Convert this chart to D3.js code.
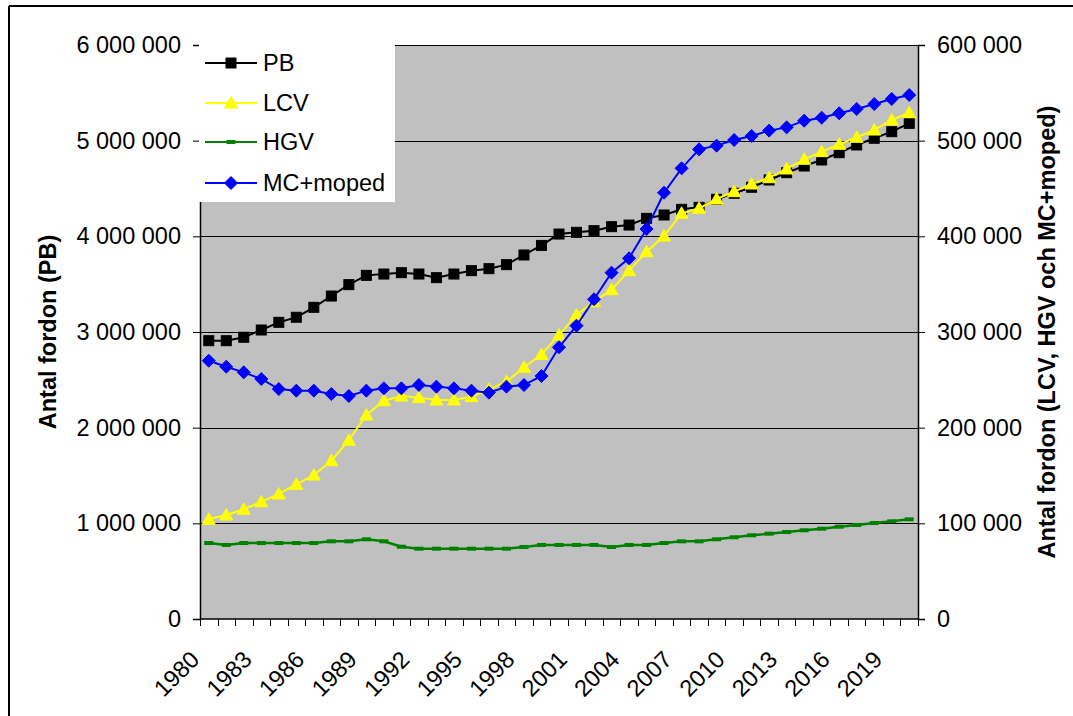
<!DOCTYPE html>
<html>
<head>
<meta charset="utf-8">
<script src="https://cdn.jsdelivr.net/npm/d3@7"></script>
<style>
  html, body { margin: 0; padding: 0; background: #fff; }
  svg { display: block; }
  text { font-family: "Liberation Sans", Arial, sans-serif; fill: #000; }
</style>
</head>
<body>
<svg id="chart" width="1073" height="716"></svg>
<script>
// Fleet size per vehicle category, Sweden 1980–2020
const years = d3.range(1980, 2021);

// Passenger cars (left axis)
const pb = [2909000, 2909000, 2945000, 3021000, 3101000, 3154000, 3258000, 3376000, 3495000, 3592000,
            3606000, 3620000, 3606000, 3568000, 3606000, 3641000, 3662000, 3704000, 3805000, 3905000,
            4024000, 4042000, 4059000, 4101000, 4118000, 4188000, 4223000, 4282000, 4303000, 4387000,
            4450000, 4513000, 4589000, 4665000, 4735000, 4798000, 4874000, 4955000, 5025000, 5094000,
            5181000];

// Light commercial vehicles (right axis)
const lcv = [104200, 108700, 114700, 122500, 130700, 140800, 150500, 165500, 186800, 213200,
             228200, 233100, 231400, 228900, 228900, 232400, 240100, 248100, 263100, 276500,
             296700, 317800, 331700, 344200, 364100, 383900, 400300, 424100, 429300, 439000,
             446700, 454700, 461300, 470400, 480500, 488500, 496200, 503500, 511100, 521600,
             529200];

// Heavy goods vehicles (right axis)
const hgv = [79400, 77400, 79400, 79400, 79400, 79400, 79400, 81200, 81200, 83300,
             81200, 75600, 73500, 73500, 73500, 73500, 73500, 73500, 75300, 77400,
             77400, 77400, 77400, 75300, 77400, 77400, 79400, 81200, 81200, 83300,
             85400, 87500, 89200, 90900, 92700, 94400, 96500, 98300, 100300, 102100,
             104200];

// Motorcycles and mopeds (right axis)
const mc = [270000, 263700, 257800, 250900, 240400, 238700, 238700, 235200, 233100, 238700,
            241100, 241100, 244600, 242900, 241100, 238700, 236600, 242900, 244600, 254000,
            284000, 306600, 334200, 362000, 377000, 407700, 445600, 471100, 490900, 494800,
            500700, 504900, 510500, 513900, 520900, 524000, 528600, 533100, 538300, 543600,
            547700];

const leftTicks = [0, 1000000, 2000000, 3000000, 4000000, 5000000, 6000000];
const rightTicks = [0, 100000, 200000, 300000, 400000, 500000, 600000];
const yearLabels = d3.range(1980, 2021, 3);

const leftTitle = "Antal fordon (PB)";
const rightTitle = "Antal fordon (LCV, HGV och MC+moped)";

const series = [
  { name: "PB", values: pb, axis: "left", color: "#000000", marker: "square" },
  { name: "LCV", values: lcv, axis: "right", color: "#FFFF00", marker: "triangle" },
  { name: "HGV", values: hgv, axis: "right", color: "#008000", marker: "dash" },
  { name: "MC+moped", values: mc, axis: "right", color: "#0000FF", marker: "diamond" }
];

const plot = { left: 200, right: 918, top: 45, bottom: 619 };
const svg = d3.select("#chart");

const x = d3.scaleBand().domain(years).range([plot.left, plot.right]).padding(0);
const xc = d => x(d) + x.bandwidth() / 2;
const yL = d3.scaleLinear().domain([0, 6000000]).range([plot.bottom, plot.top]);
const yR = d3.scaleLinear().domain([0, 600000]).range([plot.bottom, plot.top]);
const fmt = v => d3.format(",")(v).replace(/,/g, " ");

// outer frame (top and left edges)
svg.append("line").attr("x1", 9).attr("y1", 6).attr("x2", 1073).attr("y2", 6)
  .attr("stroke", "#000").attr("stroke-width", 2);
svg.append("line").attr("x1", 9).attr("y1", 6).attr("x2", 9).attr("y2", 716)
  .attr("stroke", "#000").attr("stroke-width", 2);

// plot background
svg.append("rect")
  .attr("x", plot.left).attr("y", plot.top)
  .attr("width", plot.right - plot.left).attr("height", plot.bottom - plot.top)
  .attr("fill", "#C0C0C0");

// horizontal gridlines
svg.append("g").selectAll("line").data(leftTicks.slice(1)).join("line")
  .attr("x1", plot.left).attr("x2", plot.right)
  .attr("y1", d => Math.round(yL(d)) + 0.5).attr("y2", d => Math.round(yL(d)) + 0.5)
  .attr("stroke", "#000").attr("stroke-width", 1);

// left axis
const axL = svg.append("g").attr("transform", `translate(${plot.left},0)`)
  .call(d3.axisLeft(yL).tickValues(leftTicks).tickFormat(fmt).tickSize(7).tickPadding(12));
// right axis
const axR = svg.append("g").attr("transform", `translate(${plot.right},0)`)
  .call(d3.axisRight(yR).tickValues(rightTicks).tickFormat(fmt).tickSize(7).tickPadding(12));
[axL, axR].forEach(g => {
  g.select(".domain").attr("stroke", "#000").attr("stroke-width", 1.5);
  g.selectAll(".tick line").attr("stroke", "#000").attr("stroke-width", 1);
  g.selectAll(".tick text").attr("font-size", 23.5)
    .style("font-family", '"Liberation Sans", Arial, sans-serif').attr("fill", "#000");
});

// bottom axis: baseline, tick marks at category boundaries, rotated year labels
const xg = svg.append("g");
xg.append("line").attr("x1", plot.left).attr("x2", plot.right)
  .attr("y1", plot.bottom).attr("y2", plot.bottom).attr("stroke", "#000").attr("stroke-width", 1.5);
const bounds = years.map(d => x(d)).concat([plot.right]);
xg.selectAll("line.tk").data(bounds).join("line").attr("class", "tk")
  .attr("x1", d => Math.round(d) + 0.5).attr("x2", d => Math.round(d) + 0.5)
  .attr("y1", plot.bottom).attr("y2", plot.bottom + 7)
  .attr("stroke", "#000").attr("stroke-width", 1);
xg.selectAll("text").data(yearLabels).join("text")
  .attr("transform", d => `translate(${xc(d) - 8},661) rotate(-45)`)
  .attr("text-anchor", "end")
  .attr("font-size", 23.5)
  .text(d => d);

// axis titles
svg.append("text")
  .attr("transform", `translate(56,${(plot.top + plot.bottom) / 2}) rotate(-90)`)
  .attr("text-anchor", "middle").attr("font-weight", "bold").attr("font-size", 23.5)
  .text(leftTitle);
svg.append("text")
  .attr("transform", `translate(1055,${(plot.top + plot.bottom) / 2}) rotate(-90)`)
  .attr("text-anchor", "middle").attr("font-weight", "bold").attr("font-size", 23.5)
  .text(rightTitle);

// marker shapes
function drawMarker(sel, type, color) {
  if (type === "square") {
    sel.append("rect").attr("x", -5).attr("y", -5).attr("width", 10).attr("height", 10)
      .attr("fill", color).attr("stroke", color).attr("stroke-width", 1);
  } else if (type === "triangle") {
    sel.append("path").attr("d", "M0,-6.5L6.5,5L-6.5,5Z")
      .attr("fill", color).attr("stroke", color).attr("stroke-width", 1);
  } else if (type === "diamond") {
    sel.append("path").attr("d", "M0,-6.5L6.5,0L0,6.5L-6.5,0Z")
      .attr("fill", color).attr("stroke", color).attr("stroke-width", 1);
  } else if (type === "dash") {
    sel.append("rect").attr("x", -4.5).attr("y", -2).attr("width", 9).attr("height", 4)
      .attr("fill", color);
  }
}

// series lines and markers
series.forEach(s => {
  const y = s.axis === "left" ? yL : yR;
  const pts = years.map((yr, i) => [xc(yr), y(s.values[i])]);
  svg.append("path").datum(pts)
    .attr("d", d3.line())
    .attr("fill", "none").attr("stroke", s.color)
    .attr("stroke-width", s.marker === "dash" ? 2.5 : 2);
  const g = svg.append("g");
  pts.forEach(p => {
    const m = g.append("g").attr("transform", `translate(${p[0]},${p[1]})`);
    drawMarker(m, s.marker, s.color);
  });
});

// legend
const lg = svg.append("g");
lg.append("rect").attr("x", 199).attr("y", 44).attr("width", 196).attr("height", 158).attr("fill", "#fff");
const rowY = [63, 103, 142, 183];
series.forEach((s, i) => {
  const r = lg.append("g").attr("transform", `translate(0,${rowY[i]})`);
  r.append("line").attr("x1", 205).attr("x2", 257).attr("y1", 0).attr("y2", 0)
    .attr("stroke", s.color).attr("stroke-width", 2);
  drawMarker(r.append("g").attr("transform", "translate(231,0)"), s.marker, s.color);
  r.append("text").attr("x", 263).attr("y", 0).attr("dy", "0.35em")
    .attr("font-size", 23.5).text(s.name);
});
</script>
</body>
</html>
